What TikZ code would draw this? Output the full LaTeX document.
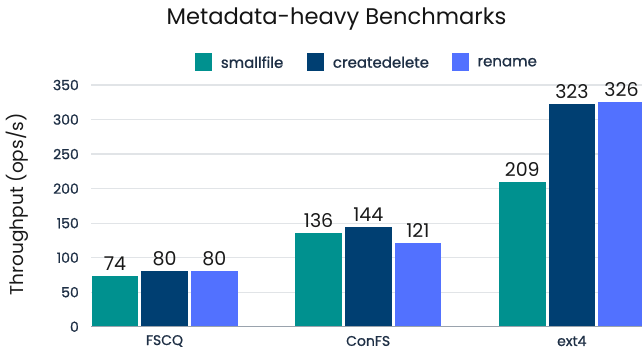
\documentclass[tikz,border=0pt]{standalone}
\usepackage{fontspec}
\setmainfont{Poppins}
\newfontfamily\medfont[FakeBold=0.9]{Poppins}
\definecolor{smallc}{HTML}{00918F}
\definecolor{createc}{HTML}{003F72}
\definecolor{renamec}{HTML}{5271FF}
\definecolor{inkc}{HTML}{1E2F45}
\definecolor{gridc}{HTML}{E1E4E7}
\definecolor{axisc}{HTML}{9AA3AD}
\begin{document}
\begin{tikzpicture}[x=1pt,y=-1pt,
  gridline/.style={draw=gridc,line width=1.2pt},
  baseline axis/.style={draw=axisc,line width=1.1pt},
  tick/.style={anchor=east,text=inkc,font=\medfont\fontsize{14}{16}\selectfont,inner sep=0pt},
  catlabel/.style={anchor=center,text=inkc,font=\medfont\fontsize{14}{16}\selectfont,inner sep=0pt},
  vallabel/.style={anchor=base,text=black!90,font=\fontsize{19}{22}\selectfont,inner sep=0pt},
  legbox/.style={minimum size=17.5pt,inner sep=0pt},
  legtext/.style={anchor=west,text=inkc,font=\medfont\fontsize{15}{18}\selectfont,inner sep=0pt},
  barfill/.style={fill=#1,draw=none}]
\useasboundingbox (0,0) rectangle (642,354);
\clip (0,0) rectangle (642,354);

% title
\node[anchor=base,font=\fontsize{22.6}{27}\selectfont,text=black!92,inner sep=0pt] (title) at (336.5,24) {Metadata-heavy Benchmarks};

% legend
\node[legbox,fill=smallc] (leg1) at (203.5,62.2) {};
\node[legtext] (legt1) at (220.7,62.2) {smallfile};
\node[legbox,fill=createc] (leg2) at (315.5,62.2) {};
\node[legtext] (legt2) at (332.7,62.2) {createdelete};
\node[legbox,fill=renamec] (leg3) at (460.5,62.2) {};
\node[legtext] (legt3) at (477.3,62.2) {rename};

% horizontal grid and tick labels
\foreach \v in {50,100,...,350}{
  \draw[gridline] (91,{326.7-0.6905*\v}) -- (642,{326.7-0.6905*\v});
}
\foreach \v in {0,50,...,350}{
  \node[tick] (tick\v) at (79,{326.7-0.6905*\v}) {\v};
}

% y-axis title
\node[rotate=90,text=black!90,font=\fontsize{18.5}{22}\selectfont,inner sep=0pt] (ytitle) at (17,204) {Throughput (ops/s)};

% bars, values and category names
\foreach \g/\a/\b/\c/\cat in {0/74/80/80/FSCQ,1/136/144/121/ConFS,2/209/323/326/ext4}{
  \foreach \s/\v/\col in {0/\a/smallc,1/\b/createc,2/\c/renamec}{
    \pgfmathsetmacro{\xl}{91.7+203.65*\g+49.65*\s}
    \pgfmathsetmacro{\yt}{326.7-0.6905*\v}
    \fill[barfill=\col] (\xl,326.7) rectangle ({\xl+46.5},\yt);
    \node[vallabel] (val-\g-\s) at ({\xl+23.25},{\yt-5.5}) {\v};
  }
  \node[catlabel] (cat-\g) at ({164.5+203.65*\g},341) {\cat};
}

% category axis
\draw[baseline axis] (91,326.7) -- (642,326.7);
\end{tikzpicture}
\end{document}
